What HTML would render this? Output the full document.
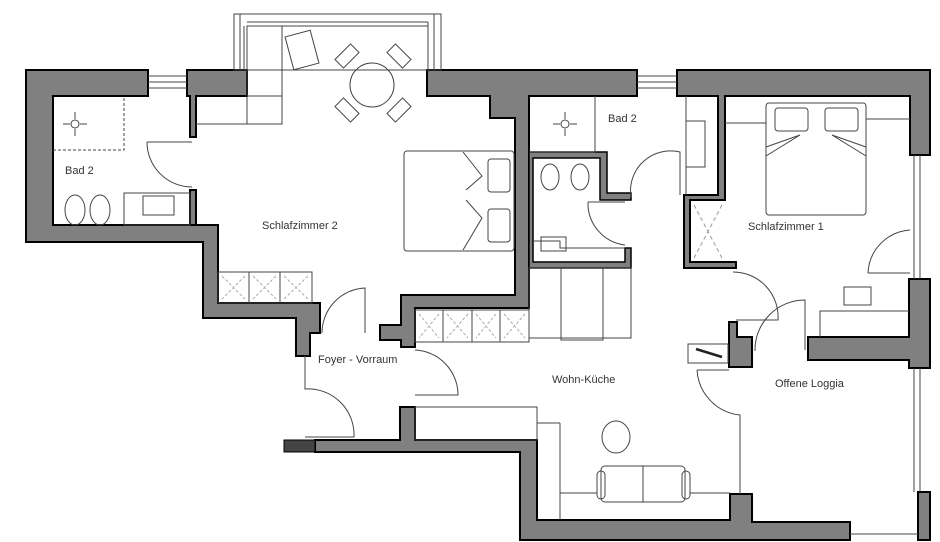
<!DOCTYPE html>
<html><head><meta charset="utf-8"><style>
html,body{margin:0;padding:0;background:#fff;}
svg{display:block;}
text{font-family:"Liberation Sans",sans-serif;font-size:11px;fill:#333;}
</style></head><body>
<svg width="940" height="542" viewBox="0 0 940 542" xmlns="http://www.w3.org/2000/svg">
<g fill="#808080" stroke="#000" stroke-width="2" stroke-linejoin="miter">
<polygon points="26,70 148,70 148,96 53,96 53,225 218,225 218,303 320,303 320,333 310,333 310,356 296,356 296,318 203,318 203,242 26,242"/>
<polygon points="187,70 247,70 247,96 196,96 196,137 190,137 190,96 187,96"/>
<polygon points="190,190 196,190 196,225 190,225"/>
<polygon points="427,70 637,70 637,96 529,96 529,308 415,308 415,347 401,347 401,340 380,340 380,325 401,325 401,295 515,295 515,118 490,118 490,96 427,96"/>
<polygon points="529,152 607,152 607,193 631,193 631,200 600,200 600,158 533,158 533,262 625,262 625,248 631,248 631,268 529,268" stroke-width="1.5"/>
<polygon points="677,70 930,70 930,155 910,155 910,96 725,96 725,200 690,200 690,262 736,262 736,268 684,268 684,195 718,195 718,96 677,96"/>
<polygon points="909,279 930,279 930,368 909,368 909,360 808,360 808,337 909,337"/>
<polygon points="729,322 737,322 737,337 752,337 752,367 729,367"/>
<polygon points="400,407 415,407 415,440 537,440 537,520 730,520 730,494 752,494 752,522 850,522 850,540 520,540 520,452 315,452 315,440 400,440"/>
<polygon points="918,492 930,492 930,540 918,540"/>
</g>
<rect x="284" y="440" width="31" height="12" fill="#444" stroke="#000"/>
<g fill="none" stroke="#444" stroke-width="1">
<rect x="234" y="14" width="207" height="56"/>
<line x1="247" y1="22" x2="428" y2="22"/><line x1="247" y1="26" x2="428" y2="26"/>
<line x1="240" y1="14" x2="240" y2="70"/><line x1="244" y1="26" x2="244" y2="70"/>
<line x1="428" y1="22" x2="428" y2="70"/><line x1="434" y1="14" x2="434" y2="70"/>
<rect x="247" y="26" width="35" height="98"/><line x1="247" y1="96" x2="282" y2="96"/>
<line x1="196" y1="124" x2="282" y2="124"/>
<circle cx="372" cy="85" r="22"/>
<rect x="289" y="33" width="26" height="34" transform="rotate(-15 302 50)"/>
<rect x="336" y="50" width="22" height="12" transform="rotate(-45 347 56)"/>
<rect x="388" y="50" width="22" height="12" transform="rotate(45 399 56)"/>
<rect x="336" y="104" width="22" height="12" transform="rotate(45 347 110)"/>
<rect x="388" y="104" width="22" height="12" transform="rotate(-45 399 110)"/>
<line x1="148" y1="76" x2="187" y2="76"/><line x1="148" y1="82" x2="187" y2="82"/><line x1="148" y1="88" x2="187" y2="88"/>
<line x1="637" y1="76" x2="677" y2="76"/><line x1="637" y1="82" x2="677" y2="82"/><line x1="637" y1="88" x2="677" y2="88"/>
<line x1="914" y1="155" x2="914" y2="279"/><line x1="920" y1="155" x2="920" y2="279"/>
<line x1="914" y1="368" x2="914" y2="492"/><line x1="920" y1="368" x2="920" y2="492"/>
<path d="M53 150 H124 V96" stroke-dasharray="3,2"/>
<rect x="124" y="193" width="66" height="32"/><rect x="143" y="196" width="31" height="19"/>
<ellipse cx="75" cy="210" rx="10" ry="15"/><ellipse cx="100" cy="210" rx="10" ry="15"/>
<path d="M147 142 A45 45 0 0 0 192 187"/><line x1="147" y1="142" x2="192" y2="142"/>
<circle cx="75" cy="124" r="4"/><path d="M63 124h7M80 124h7M75 112v7M75 129v7"/>
<rect x="404" y="151" width="110" height="100" rx="3"/>
<rect x="488" y="159" width="22" height="33" rx="3"/><rect x="488" y="209" width="22" height="33" rx="3"/>
<path d="M463 152 L482 176 L466 190 M463 250 L482 218 L466 200"/>
<rect x="218" y="272" width="94" height="31"/>
<line x1="249" y1="272" x2="249" y2="303"/><line x1="280" y1="272" x2="280" y2="303"/>
<rect x="415" y="310" width="114" height="32"/>
<line x1="443" y1="310" x2="443" y2="342"/><line x1="472" y1="310" x2="472" y2="342"/><line x1="500" y1="310" x2="500" y2="342"/>
<g stroke="#aaa" stroke-dasharray="3,2">
<path d="M222 276 L245 299 M245 276 L222 299 M253 276 L276 299 M276 276 L253 299 M284 276 L308 299 M308 276 L284 299"/>
<path d="M419 314 L439 338 M439 314 L419 338 M447 314 L468 338 M468 314 L447 338 M476 314 L496 338 M496 314 L476 338 M504 314 L525 338 M525 314 L504 338"/>
</g>
<path d="M322 333 A45 45 0 0 1 365 288 V333"/>
<path d="M415 350 A45 45 0 0 1 458 395 H415"/>
<path d="M305 356 V389 A46 46 0 0 1 354 437 H305"/>
<line x1="595" y1="96" x2="595" y2="152"/><line x1="529" y1="152" x2="595" y2="152"/>
<rect x="686" y="121" width="19" height="46"/><line x1="686" y1="96" x2="686" y2="195"/>
<path d="M631 197 A40 40 0 0 1 680 152 V195"/>
<path d="M588 202 A42 42 0 0 0 625 245 M588 202 H625"/>
<ellipse cx="550" cy="177" rx="9" ry="13"/><ellipse cx="580" cy="177" rx="9" ry="13"/>
<path d="M533 241 H560 V248 H625"/><rect x="541" y="237" width="25" height="14"/>
<circle cx="565" cy="124" r="4"/><path d="M553 124h7M570 124h7M565 112v7M565 129v7"/>
<rect x="529" y="268" width="102" height="70"/>
<rect x="561" y="268" width="42" height="72"/>
<path d="M694 205 L722 258 M722 205 L694 258" stroke-dasharray="4,3" stroke="#999"/>
<rect x="766" y="103" width="100" height="112" rx="3"/>
<rect x="775" y="108" width="33" height="23" rx="3"/><rect x="825" y="108" width="33" height="23" rx="3"/>
<path d="M766 147 L800 135 L766 156 M866 147 L832 135 L866 156"/>
<line x1="725" y1="123" x2="766" y2="123"/><line x1="866" y1="119" x2="910" y2="119"/>
<path d="M733 272 A45 45 0 0 1 778 320 H736"/>
<path d="M868 273 A45 45 0 0 1 910 230"/><line x1="868" y1="273" x2="910" y2="273"/>
<rect x="844" y="287" width="27" height="18"/>
<path d="M820 337 V311 H909"/>
<path d="M755 351 A50 50 0 0 1 805 300 V350"/>
<path d="M697 370 A48 48 0 0 0 740 415 V494"/><line x1="697" y1="370" x2="729" y2="370"/>
<rect x="688" y="344" width="40" height="19"/>
<line x1="696" y1="349" x2="722" y2="357" stroke-width="2.5" stroke="#222"/>
<rect x="415" y="407" width="122" height="33"/>
<line x1="537" y1="423" x2="560" y2="423"/><line x1="560" y1="423" x2="560" y2="520"/>
<ellipse cx="616" cy="437" rx="14" ry="16"/>
<rect x="601" y="466" width="84" height="36" rx="4"/><line x1="643" y1="466" x2="643" y2="502"/>
<rect x="597" y="471" width="8" height="28" rx="4"/><rect x="682" y="471" width="8" height="28" rx="4"/>
<line x1="560" y1="493" x2="597" y2="493"/><line x1="690" y1="493" x2="730" y2="493"/>
<line x1="850" y1="534" x2="918" y2="534"/>
</g>
<text x="65" y="174">Bad 2</text>
<text x="262" y="229">Schlafzimmer 2</text>
<text x="608" y="122">Bad 2</text>
<text x="748" y="230">Schlafzimmer 1</text>
<text x="318" y="363">Foyer - Vorraum</text>
<text x="552" y="383">Wohn-Küche</text>
<text x="775" y="387">Offene Loggia</text>
</svg>
</body></html>
